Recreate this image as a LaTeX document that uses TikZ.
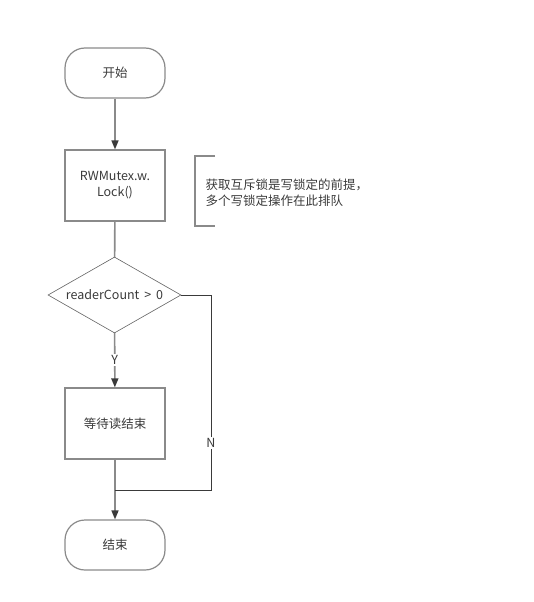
\documentclass[tikz,border=0pt]{standalone}
\usepackage{fontspec}
\setmainfont{Noto Sans CJK SC}
\usetikzlibrary{arrows.meta,shapes.geometric}
\definecolor{linegray}{HTML}{8A8A8A}
\definecolor{inkgray}{HTML}{3A3A3A}

\begin{document}
\begin{tikzpicture}[x=1pt, y=-1pt, font=\fontsize{12.5}{16}\selectfont,
    term/.style={draw=linegray, line width=1.2pt, rounded corners=20pt, minimum width=100pt, minimum height=50pt, text=inkgray},
    proc/.style={draw=linegray, line width=1.2pt, minimum width=100pt, minimum height=71pt, align=center, text=inkgray},
    decide/.style={draw=inkgray!80, line width=0.6pt, diamond, aspect=1.75, inner sep=0pt, minimum width=133pt, minimum height=76pt, text=inkgray},
    flow/.style={draw=linegray, line width=1.6pt, -{Triangle[length=9pt, width=7pt, color=inkgray]}},
    plain/.style={draw=linegray, line width=1.6pt},
    back/.style={draw=inkgray, line width=0.7pt},
    tag/.style={fill=white, inner sep=1.5pt, text=inkgray}]
        \useasboundingbox (0,0) rectangle (533,602);
        \node[term] (start) at (115,73) {开始};
        \node[proc] (lock) at (115,185.5) {RWMutex.w.\\Lock()};
        \node[decide] (check) at (114.5,295) {readerCount \,>\, 0};
        \node[proc] (wait) at (115,423.5) {等待读结束};
        \node[term] (finish) at (115,545) {结束};
        % note beside the lock box
        \draw[draw=linegray, line width=1.2pt] (215,156) -- (195,156) -- (195,226) -- (215,226);
        \node[anchor=west, align=left, text=inkgray] (note) at (202,193) {获取互斥锁是写锁定的前提，\\多个写锁定操作在此排队};
        % connectors
        \coordinate (merge) at (115,490);
        \draw[flow] (start) -- (lock);
        \draw[plain] (lock) -- (check);
        \draw[flow] (check) -- node[tag] {Y} (wait);
        \draw[plain] (wait) -- (merge);
        \draw[flow] (merge) -- (finish);
        \draw[back] (check.east) -- (211,295) -- node[tag, pos=0.76] {N} (211,490) -- (merge);
    \end{tikzpicture}
\end{document}
